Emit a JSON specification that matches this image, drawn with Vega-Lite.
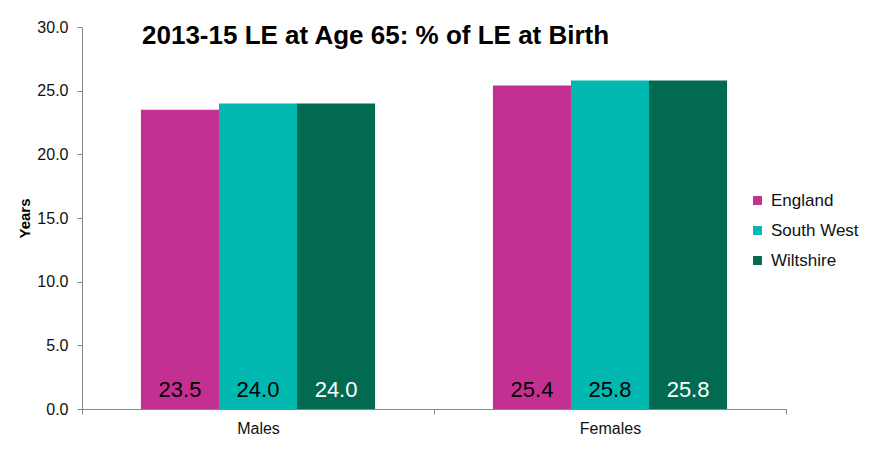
{
  "$schema": "https://vega.github.io/schema/vega-lite/v6.json",
  "autosize": "none",
  "width": 704,
  "height": 382,
  "padding": {"left": 82, "top": 27, "right": 84, "bottom": 42},
  "background": "white",
  "config": {
    "font": "Liberation Sans",
    "view": {"stroke": null},
    "axis": {"grid": false, "domainColor": "#888888", "tickColor": "#888888", "labelColor": "#111111", "labelFont": "Liberation Sans", "labelOverlap": false}
  },
  "title": {
    "text": "2013-15 LE at Age 65: % of LE at Birth",
    "anchor": "start",
    "frame": "group",
    "orient": "top",
    "dx": 60,
    "offset": -30,
    "fontSize": 26,
    "fontWeight": "bold",
    "font": "Liberation Sans",
    "color": "#000000",
    "baseline": "top"
  },
  "data": {
    "values": [
      {"sex": "Males", "area": "England", "value": 23.5},
      {"sex": "Males", "area": "South West", "value": 24.0},
      {"sex": "Males", "area": "Wiltshire", "value": 24.0},
      {"sex": "Females", "area": "England", "value": 25.4},
      {"sex": "Females", "area": "South West", "value": 25.8},
      {"sex": "Females", "area": "Wiltshire", "value": 25.8}
    ]
  },
  "encoding": {
    "x": {
      "field": "sex", "type": "nominal", "sort": ["Males", "Females"],
      "scale": {"paddingInner": 0, "paddingOuter": 0},
      "axis": {"title": null, "labelAngle": 0, "labelFontSize": 16, "tickBand": "extent", "tickSize": 5, "labelPadding": 6}
    },
    "xOffset": {
      "field": "area", "type": "nominal", "sort": ["England", "South West", "Wiltshire"],
      "scale": {"paddingInner": 0, "paddingOuter": 0.755}
    }
  },
  "layer": [
    {
      "mark": {"type": "bar"},
      "encoding": {
        "y": {
          "field": "value", "type": "quantitative",
          "scale": {"domain": [0, 30]},
          "axis": {"title": "Years", "titleFontSize": 15, "titleFontWeight": "bold", "titleColor": "#000000", "format": ".1f", "values": [0, 5, 10, 15, 20, 25, 30], "labelFontSize": 16, "tickSize": 5, "labelPadding": 9, "titlePadding": 4}
        },
        "color": {
          "field": "area", "type": "nominal",
          "sort": ["England", "South West", "Wiltshire"],
          "scale": {"domain": ["England", "South West", "Wiltshire"], "range": ["#C33091", "#00B8B0", "#036A52"]},
          "legend": {"title": null, "orient": "none", "legendX": 667, "legendY": 165, "symbolType": "square", "symbolSize": 80, "labelFontSize": 17, "labelColor": "#111111", "rowPadding": 12, "labelOffset": 5, "symbolStrokeWidth": 0}
        }
      }
    },
    {
      "mark": {"type": "text", "fontSize": 22, "baseline": "alphabetic", "dy": -12, "font": "Liberation Sans"},
      "encoding": {
        "y": {"datum": 0, "type": "quantitative"},
        "text": {"field": "value", "type": "quantitative", "format": ".1f"},
        "color": {
          "condition": {"test": "datum.area === 'Wiltshire'", "value": "#ffffff"},
          "value": "#000000"
        }
      }
    }
  ]
}
